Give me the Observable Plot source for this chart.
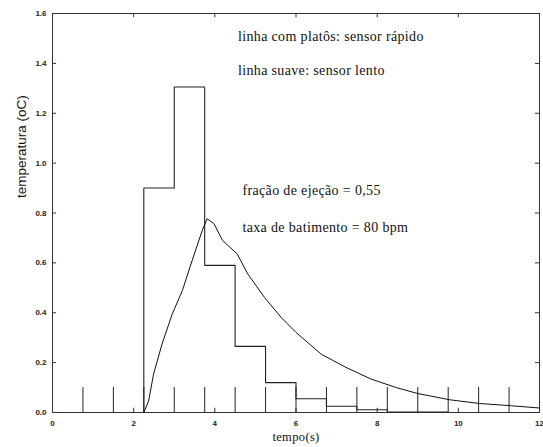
<!DOCTYPE html>
<html>
<head>
<meta charset="utf-8">
<script src="https://cdn.jsdelivr.net/npm/d3@7"></script>
<script src="https://cdn.jsdelivr.net/npm/@observablehq/plot@0.6"></script>
<style>
  html, body { margin: 0; padding: 0; background: white; }
  .serif-text text { font-family: "Liberation Serif", "Times New Roman", "DejaVu Serif", serif; letter-spacing: 0.35px; }
</style>
</head>
<body>
<div id="chart"></div>
<script>
// Fast sensor (plateaus): step-after values
const stepTimes  = [2.25, 2.25, 3.0, 3.75, 4.5, 5.25, 6.0, 6.75, 7.5, 8.25, 9.75];
const stepValues = [0,    0.9,  1.305, 0.59, 0.265, 0.12, 0.055, 0.025, 0.011, 0.002, 0];

// Slow sensor (smooth line)
const smoothTimes  = [2.25, 2.37, 2.49, 2.70, 2.95, 3.2, 3.44, 3.69, 3.81, 3.98, 4.19, 4.55, 4.81, 5.22, 5.63, 6.0, 6.62, 7.23, 7.85, 8.47, 9.0, 9.79, 10.53, 11.31, 12];
const smoothValues = [0, 0.047, 0.154, 0.275, 0.395, 0.489, 0.609, 0.73, 0.777, 0.757, 0.69, 0.636, 0.556, 0.462, 0.382, 0.321, 0.234, 0.181, 0.134, 0.10, 0.076, 0.051, 0.036, 0.027, 0.018];

// Heartbeat markers (80 bpm -> every 0.75 s)
const beatTimes = [0.75, 1.5, 2.25, 3.0, 3.75, 4.5, 5.25, 6.0, 6.75, 7.5, 8.25, 9.0, 9.75, 10.5, 11.25];
const beatHeight = 0.1;

// Tick labels
const xTicks = [0, 2, 4, 6, 8, 10, 12];
const yTicks = [0, 0.2, 0.4, 0.6, 0.8, 1, 1.2, 1.4, 1.6];

// Texts
const xLabel = "tempo(s)";
const yLabel = "temperatura (oC)";
const notesTop = ["linha com platôs: sensor rápido", "linha suave: sensor lento"];
const notesMid = ["fração de ejeção = 0,55", "taxa de batimento = 80 bpm"];
const notesTopY = [1.509, 1.372];
const notesMidY = [0.89, 0.743];

const sans = "Liberation Sans, Arial, sans-serif";
const stepIdx = d3.range(stepTimes.length);
const smoothIdx = d3.range(smoothTimes.length);

const chart = Plot.plot({
  width: 543,
  height: 447,
  marginLeft: 52,
  marginRight: 4,
  marginTop: 13,
  marginBottom: 35,
  x: { domain: [0, 12] },
  y: { domain: [0, 1.6] },
  style: { fontFamily: sans, fontSize: "8px", background: "white", color: "#222" },
  marks: [
    Plot.frame({ stroke: "#333" }),
    Plot.axisX(xTicks, { tickSize: 0, tickPadding: 8, label: null, fontWeight: "bold" }),
    Plot.axisY(yTicks, { tickSize: 0, tickPadding: 6, label: null, fontWeight: "bold" }),
    // inward ticks
    Plot.ruleX(xTicks, { x: d => d, y1: 0, y2: 0.017, stroke: "#333" }),
    Plot.ruleX(xTicks, { x: d => d, y1: 1.6, y2: 1.583, stroke: "#333" }),
    Plot.ruleY(yTicks, { y: d => d, x1: 0, x2: 0.1, stroke: "#333" }),
    Plot.ruleY(yTicks, { y: d => d, x1: 12, x2: 11.9, stroke: "#333" }),
    // beat markers
    Plot.ruleX(beatTimes, { x: d => d, y1: 0, y2: beatHeight, stroke: "#222", strokeWidth: 1 }),
    // step (fast sensor)
    Plot.line(stepIdx, { x: i => stepTimes[i], y: i => stepValues[i], curve: "step-after", stroke: "#222", strokeWidth: 1.1 }),
    // smooth (slow sensor)
    Plot.line(smoothIdx, { x: i => smoothTimes[i], y: i => smoothValues[i], curve: "linear", stroke: "#111", strokeWidth: 1 }),
    // annotations
    Plot.text(notesTop, { x: 4.57, y: (d, i) => notesTopY[i], text: d => d, textAnchor: "start", fontSize: 14, fill: "#111", className: "serif-text" }),
    Plot.text(notesMid, { x: 4.68, y: (d, i) => notesMidY[i], text: d => d, textAnchor: "start", fontSize: 14, fill: "#111", className: "serif-text" }),
    // axis titles
    Plot.text([xLabel], { frameAnchor: "bottom", dy: 28, text: d => d, fontSize: 12.5, fill: "#111", className: "serif-text" }),
    Plot.text([yLabel], { frameAnchor: "left", dx: -31, dy: -15, rotate: -90, text: d => d, fontFamily: sans, fontSize: 13.5, fill: "#111" })
  ]
});
document.getElementById("chart").appendChild(chart);
</script>
</body>
</html>
